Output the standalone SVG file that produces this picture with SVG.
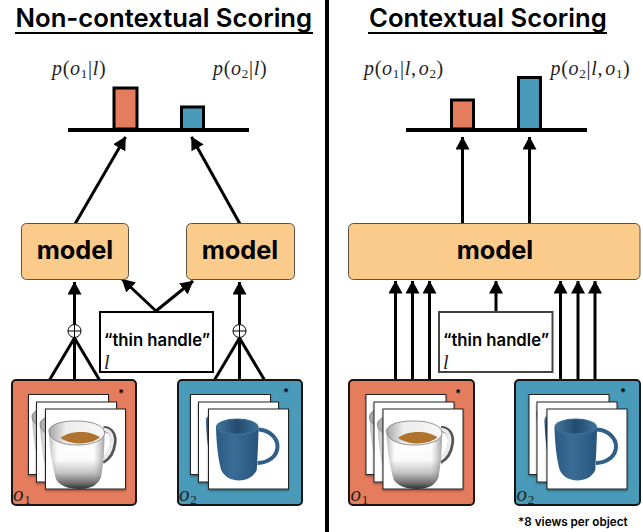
<svg xmlns="http://www.w3.org/2000/svg" xmlns:xlink="http://www.w3.org/1999/xlink" width="643" height="532" viewBox="0 0 643 532">
<style>
text{font-family:Inter,"Noto Sans","Liberation Sans",sans-serif;fill:#000}
.title{font-size:25.700px;font-weight:600}
.model{font-size:25.300px;font-weight:700;text-anchor:middle}
.lang{font-size:16.700px;font-weight:600;text-anchor:middle}
.math{font-family:"Liberation Serif","DejaVu Serif",serif;font-size:20px;letter-spacing:0.700px;fill:#222}
.math .i{font-style:italic}
.sub{font-size:13px}
.model-box{fill:#fbcb8b;stroke:#5c5040;stroke-width:1}
.lang-box{fill:#fff;stroke:#000;stroke-width:2}
.red{fill:#e67c5e}
.blue{fill:#4a9bb9}
.card{stroke:#161616;stroke-width:2}
.bar{stroke:#000;stroke-width:3}
.axis{stroke:#000;stroke-width:4}
.tile{fill:#fff;stroke:#222;stroke-width:1;filter:url(#sh)}
.c{stroke:#000;stroke-width:3;fill:none}
.star{font-size:11px;font-weight:700}
.rule{stroke:#000;stroke-width:2}
</style>
<defs>
<marker id="a" viewBox="0 0 13 14" refX="12.500" refY="7" markerWidth="13" markerHeight="14" markerUnits="userSpaceOnUse" orient="auto"><path d="M0 0L13 7L0 14Z" fill="#000"/></marker>
<filter id="sh" x="-10%" y="-10%" width="125%" height="125%"><feDropShadow dx="0" dy="1.500" stdDeviation="1.200" flood-color="#000" flood-opacity="0.350"/></filter>
<linearGradient id="wb" x1="0" y1="0" x2="0" y2="1"><stop offset="0" stop-color="#fff"/><stop offset="0.5" stop-color="#fafafa"/><stop offset="0.72" stop-color="#c4c4c4"/><stop offset="0.9" stop-color="#6e6e6e"/><stop offset="1" stop-color="#2e2e2e"/></linearGradient>
<linearGradient id="ws" x1="0" y1="0" x2="1" y2="0"><stop offset="0" stop-color="#777" stop-opacity="0.500"/><stop offset="0.15" stop-color="#999" stop-opacity="0"/><stop offset="0.8" stop-color="#999" stop-opacity="0"/><stop offset="1" stop-color="#555" stop-opacity="0.550"/></linearGradient>
<linearGradient id="wi" x1="0" y1="0" x2="1" y2="0"><stop offset="0" stop-color="#a5a5a5"/><stop offset="0.3" stop-color="#ececec"/><stop offset="1" stop-color="#f7f7f7"/></linearGradient>
<linearGradient id="bb" x1="0" y1="0" x2="1" y2="0"><stop offset="0" stop-color="#2b5a84"/><stop offset="0.4" stop-color="#3a6c96"/><stop offset="0.75" stop-color="#2e6089"/><stop offset="1" stop-color="#28527a"/></linearGradient>
<linearGradient id="bi" x1="0" y1="0" x2="1" y2="0"><stop offset="0" stop-color="#3f7399"/><stop offset="0.5" stop-color="#234a6e"/><stop offset="1" stop-color="#3a6e96"/></linearGradient>
<g id="mugW">
<path d="M58 20C66 20 69 27 68 34C67 42 63 49 57 52" fill="none" stroke="#555" stroke-width="6"/>
<path d="M58 20.500C65 21 67.500 27 66.500 34C65.500 41 62 47.500 57 50.500" fill="none" stroke="#ececec" stroke-width="3.500"/>
<path d="M3.500 22C4 40 7 58 10.500 70C13 76 22 80 34 80C47 80 53 75 55.500 68C58 54 59 38 59 24Z" fill="url(#wb)"/>
<path d="M3.500 22C4 40 7 58 10.500 70C13 76 22 80 34 80C47 80 53 75 55.500 68C58 54 59 38 59 24Z" fill="url(#ws)"/>
<path d="M3.500 21C6 14 20 11.500 33 12C48 12.500 59 17 59 24C59 31 47 36 32 36C16 36 3 31 3.500 21Z" fill="url(#wi)" stroke="#777" stroke-width="0.800"/>
<path d="M15 29C20 25 27 23 35 23C43 23 50 25 54.500 28.500C50 32 44 34 36 34.500C27 34.500 20 32.500 15 29Z" fill="#b0732e"/>
</g>
<g id="mugB">
<path d="M50 20.500C61 21 69 29 69 37.500C69 47 60 54 49 54" fill="none" stroke="#2f5f88" stroke-width="4"/>
<path d="M7.500 19C8 36 10 52 12.700 61C19 75 42 75 48.300 61C49 46 50 32 50 18Z" fill="url(#bb)"/>
<ellipse cx="28.700" cy="18" rx="21.300" ry="8.500" fill="#3a6e96"/>
<ellipse cx="28.700" cy="17.500" rx="19" ry="7" fill="url(#bi)"/>
</g>
<g id="stackW">
<rect class="tile" x="0" y="0" width="80" height="80"/><use xlink:href="#mugW" href="#mugW"/>
<rect class="tile" x="8" y="7.500" width="80" height="80"/><use xlink:href="#mugW" href="#mugW" x="8" y="7.500"/>
<rect class="tile" x="17" y="14.500" width="80" height="80"/><use xlink:href="#mugW" href="#mugW" x="17" y="14.500"/>
</g>
<g id="stackB">
<rect class="tile" x="0" y="0" width="80" height="80"/><use xlink:href="#mugB" href="#mugB"/>
<rect class="tile" x="8" y="7.500" width="80" height="80"/><use xlink:href="#mugB" href="#mugB" x="8" y="7.500"/>
<rect class="tile" x="18" y="14.500" width="80" height="80"/><use xlink:href="#mugB" href="#mugB" x="18" y="14.500"/>
</g>
</defs>
<rect width="643" height="532" fill="#fff"/>
<rect id="divider" x="325" y="0" width="4" height="532" fill="#000"/>

<g id="title-left"><text class="title" x="15.500" y="27">Non-contextual Scoring</text><line class="rule" x1="15" y1="33" x2="313" y2="33"/></g>
<g id="title-right"><text class="title" x="369" y="27">Contextual Scoring</text><line class="rule" x1="368" y1="33" x2="607" y2="33"/></g>

<g id="connectors">
<line class="c" x1="75" y1="224" x2="125.500" y2="137" marker-end="url(#a)"/>
<line class="c" x1="240" y1="224" x2="191.500" y2="137" marker-end="url(#a)"/>
<line class="c" x1="74.500" y1="380" x2="74.500" y2="282" marker-end="url(#a)"/>
<line class="c" x1="239.500" y1="380" x2="239.500" y2="282" marker-end="url(#a)"/>
<line class="c" x1="74.500" y1="338" x2="49.500" y2="380"/>
<line class="c" x1="74.500" y1="338" x2="99.500" y2="380"/>
<line class="c" x1="239.500" y1="338" x2="214.500" y2="380"/>
<line class="c" x1="239.500" y1="338" x2="264.500" y2="380"/>
<line class="c" x1="156" y1="311" x2="122" y2="279" marker-end="url(#a)"/>
<line class="c" x1="156" y1="311" x2="193" y2="281" marker-end="url(#a)"/>
<line class="c" x1="462.500" y1="224" x2="462.500" y2="137" marker-end="url(#a)"/>
<line class="c" x1="529.500" y1="224" x2="529.500" y2="137" marker-end="url(#a)"/>
<line class="c" x1="395.500" y1="380" x2="395.500" y2="281" marker-end="url(#a)"/>
<line class="c" x1="412.500" y1="380" x2="412.500" y2="281" marker-end="url(#a)"/>
<line class="c" x1="429.500" y1="380" x2="429.500" y2="281" marker-end="url(#a)"/>
<line class="c" x1="560.500" y1="380" x2="560.500" y2="281" marker-end="url(#a)"/>
<line class="c" x1="578" y1="380" x2="578" y2="281" marker-end="url(#a)"/>
<line class="c" x1="595" y1="380" x2="595" y2="281" marker-end="url(#a)"/>
<line class="c" x1="496" y1="311" x2="496" y2="281" marker-end="url(#a)"/>
</g>

<g id="plus-1"><circle cx="74.500" cy="331" r="6.500" fill="#fff" stroke="#000" stroke-width="1"/><path d="M68 331H81M74.500 324.500V337.500" stroke="#000" stroke-width="1"/></g>
<g id="plus-2"><circle cx="239.500" cy="331" r="6.500" fill="#fff" stroke="#000" stroke-width="1"/><path d="M233 331H246M239.500 324.500V337.500" stroke="#000" stroke-width="1"/></g>

<g id="chart-left">
<rect class="bar red" x="114" y="88" width="23" height="41"/>
<rect class="bar blue" x="181.500" y="107" width="22" height="23"/>
<line class="axis" x1="68" y1="130" x2="249" y2="130"/>
<text class="math" x="52" y="75"><tspan class="i">p</tspan>(<tspan class="i">o</tspan><tspan class="sub" dy="3">1</tspan><tspan dy="-3">|</tspan><tspan class="i">l</tspan>)</text>
<text class="math" x="213" y="75"><tspan class="i">p</tspan>(<tspan class="i">o</tspan><tspan class="sub" dy="3">2</tspan><tspan dy="-3">|</tspan><tspan class="i">l</tspan>)</text>
</g>
<g id="chart-right">
<rect class="bar red" x="451.500" y="100" width="22" height="29"/>
<rect class="bar blue" x="518.500" y="77.500" width="22" height="53"/>
<line class="axis" x1="406" y1="130" x2="587" y2="130"/>
<text class="math" x="364" y="75"><tspan class="i">p</tspan>(<tspan class="i">o</tspan><tspan class="sub" dy="3">1</tspan><tspan dy="-3">|</tspan><tspan class="i">l</tspan>,<tspan class="i" dx="2">o</tspan><tspan class="sub" dy="3">2</tspan><tspan dy="-3">)</tspan></text>
<text class="math" x="550.500" y="75"><tspan class="i">p</tspan>(<tspan class="i">o</tspan><tspan class="sub" dy="3">2</tspan><tspan dy="-3">|</tspan><tspan class="i">l</tspan>,<tspan class="i" dx="2">o</tspan><tspan class="sub" dy="3">1</tspan><tspan dy="-3">)</tspan></text>
</g>

<g id="model-1"><rect class="model-box" x="21.500" y="223.500" width="107" height="56" rx="5"/><text class="model" x="75" y="259">model</text></g>
<g id="model-2"><rect class="model-box" x="186.500" y="223.500" width="108" height="56" rx="5"/><text class="model" x="240" y="259">model</text></g>
<g id="model-3"><rect class="model-box" x="348.500" y="223.500" width="291.500" height="56" rx="5"/><text class="model" x="495" y="259">model</text></g>

<g id="lang-1"><rect class="lang-box" x="100" y="312" width="113" height="60"/><text class="lang" x="157" y="346">“thin handle”</text><text class="math" x="104" y="369" font-style="italic">l</text></g>
<g id="lang-2"><rect class="lang-box" x="439" y="312" width="113.500" height="60" style="stroke:#444"/><text class="lang" x="496" y="346">“thin handle”</text><text class="math" x="443" y="369" font-style="italic">l</text></g>

<g id="object-1"><rect class="card red" x="12" y="380" width="124" height="125" rx="4"/><use xlink:href="#stackW" href="#stackW" x="28.500" y="394.500"/><text class="star" x="118" y="397">*</text><text class="math" x="13" y="501" style="font-size:21px"><tspan class="i">o</tspan><tspan class="sub" dy="3">1</tspan></text></g>
<g id="object-2"><rect class="card blue" x="178" y="380" width="124" height="125" rx="4"/><use xlink:href="#stackB" href="#stackB" x="190.500" y="394.500"/><text class="star" x="283" y="396">*</text><text class="math" x="179" y="501" style="font-size:21px"><tspan class="i">o</tspan><tspan class="sub" dy="3">2</tspan></text></g>
<g id="object-3"><rect class="card red" x="349" y="380" width="125" height="125" rx="4"/><use xlink:href="#stackW" href="#stackW" x="366" y="394.500"/><text class="star" x="455" y="397">*</text><text class="math" x="350.500" y="501" style="font-size:21px"><tspan class="i">o</tspan><tspan class="sub" dy="3">1</tspan></text></g>
<g id="object-4"><rect class="card blue" x="515" y="380" width="125" height="125" rx="4"/><use xlink:href="#stackB" href="#stackB" x="529" y="394.500"/><text class="star" x="620" y="396">*</text><text class="math" x="516.500" y="501" style="font-size:21px"><tspan class="i">o</tspan><tspan class="sub" dy="3">2</tspan></text></g>

<text id="footnote" x="518" y="526" style="font-size:11.700px;font-weight:600">*8 views per object</text>
</svg>
